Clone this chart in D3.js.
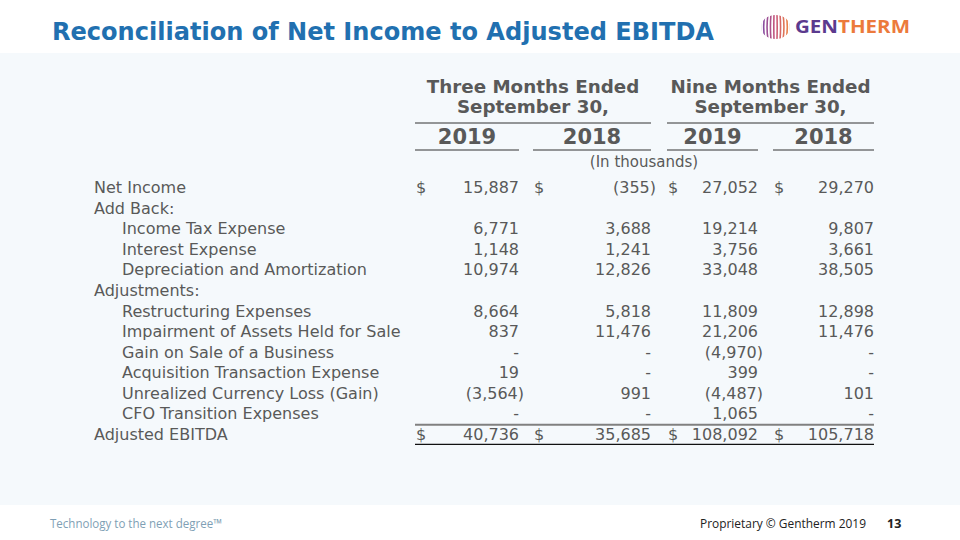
<!DOCTYPE html>
<html><head><meta charset="utf-8">
<script src="https://cdn.jsdelivr.net/npm/d3@7/dist/d3.min.js"></script>
<style>body{margin:0;background:#fff}svg{display:block}</style>
</head><body>
<svg id="c" width="960" height="540"></svg>
<script>
const title = "Reconciliation of Net Income to Adjusted EBITDA";
const groupHeaders = [["Three Months Ended", "September 30,"], ["Nine Months Ended", "September 30,"]];
const yearLabels = ["2019", "2018", "2019", "2018"];
const unitsLabel = "(In thousands)";
const rowLabels = ["Net Income", "Add Back:", "Income Tax Expense", "Interest Expense",
  "Depreciation and Amortization", "Adjustments:", "Restructuring Expenses",
  "Impairment of Assets Held for Sale", "Gain on Sale of a Business",
  "Acquisition Transaction Expense", "Unrealized Currency Loss (Gain)",
  "CFO Transition Expenses", "Adjusted EBITDA"];
const rowIndent = [0, 0, 1, 1, 1, 0, 1, 1, 1, 1, 1, 1, 0];
const dollarRows = ["Net Income", "Adjusted EBITDA"];
// null = blank cell, 0 = "-"
const q3_2019 = [15887, null, 6771, 1148, 10974, null, 8664, 837, 0, 19, -3564, 0, 40736];
const q3_2018 = [-355, null, 3688, 1241, 12826, null, 5818, 11476, 0, 0, 991, 0, 35685];
const ytd_2019 = [27052, null, 19214, 3756, 33048, null, 11809, 21206, -4970, 399, -4487, 1065, 108092];
const ytd_2018 = [29270, null, 9807, 3661, 38505, null, 12898, 11476, 0, 0, 101, 0, 105718];
const series = [q3_2019, q3_2018, ytd_2019, ytd_2018];
const footerLeft = "Technology to the next degree\u2122";
const footerRight = "Proprietary \u00a9 Gentherm 2019";
const pageNumber = "13";

const svg = d3.select("#c");
const textCol = "#595959";
const font = "'DejaVu Sans', sans-serif";

// background panel
svg.append("rect").attr("x", 0).attr("y", 0).attr("width", 960).attr("height", 540).attr("fill", "#fff");
svg.append("rect").attr("x", 0).attr("y", 53).attr("width", 960).attr("height", 452).attr("fill", "#f5f9fc");

// title
svg.append("text").attr("x", 52).attr("y", 40).text(title)
  .attr("font-family", "'DejaVu Sans Condensed', 'DejaVu Sans', sans-serif").attr("font-weight", "bold").attr("font-size", 24)
  .attr("fill", "#2170b0").attr("textLength", 662).attr("lengthAdjust", "spacingAndGlyphs");

// logo
const defs = svg.append("defs");
const grad = defs.append("linearGradient").attr("id", "lg").attr("gradientUnits", "userSpaceOnUse")
  .attr("x1", 761).attr("x2", 790).attr("y1", 0).attr("y2", 0);
grad.append("stop").attr("offset", 0).attr("stop-color", "#7a4aa8");
grad.append("stop").attr("offset", 0.5).attr("stop-color", "#c8567a");
grad.append("stop").attr("offset", 1).attr("stop-color", "#f08a40");
defs.append("clipPath").attr("id", "lc").append("ellipse").attr("cx", 775.5).attr("cy", 27).attr("rx", 14.5).attr("ry", 12);
const logo = svg.append("g");
const stripeX = d3.scaleLinear().domain([0, 9]).range([762, 789]);
logo.append("g").attr("clip-path", "url(#lc)").selectAll("path").data(d3.range(10)).join("path")
  .attr("d", d => { const x = stripeX(d), bow = (x - 775.5) * 0.25; return `M${x},14 Q${x + bow},27 ${x},40`; })
  .attr("fill", "none").attr("stroke", "url(#lg)").attr("stroke-width", 1.6);
const logoText = logo.append("text").attr("x", 795).attr("y", 33).attr("font-family", "'Open Sans', sans-serif")
  .attr("font-weight", "bold").attr("font-size", 17).attr("textLength", 115).attr("lengthAdjust", "spacingAndGlyphs");
logoText.append("tspan").attr("fill", "#5b3a8e").text("GEN");
logoText.append("tspan").attr("fill", "#ec7a3c").text("THERM");

// layout scales
const y = d3.scaleBand().domain(rowLabels).range([176.7, 444.3]);
const colLeft = d3.scaleOrdinal().domain([0, 1, 2, 3]).range([415, 533, 667, 773]);
const colRight = d3.scaleOrdinal().domain([0, 1, 2, 3]).range([519, 651, 758, 874]);
const fmt = d3.format(",");
const cell = v => v === null ? "" : v === 0 ? "-" : v < 0 ? "(" + fmt(-v) + ")" : fmt(v);

// group headers
groupHeaders.forEach((g, i) => {
  const x0 = colLeft(i * 2), x1 = colRight(i * 2 + 1);
  const cx = (x0 + x1) / 2;
  g.forEach((line, j) => {
    svg.append("text").attr("x", cx).attr("y", 93 + j * 20).attr("text-anchor", "middle")
      .attr("font-family", font).attr("font-weight", "bold").attr("font-size", 18.3).attr("fill", textCol).text(line);
  });
  svg.append("line").attr("x1", x0).attr("x2", x1).attr("y1", 123).attr("y2", 123).attr("stroke", "#333").attr("stroke-width", 1);
});
// years
yearLabels.forEach((yr, i) => {
  const x0 = colLeft(i), x1 = colRight(i);
  svg.append("text").attr("x", (x0 + x1) / 2).attr("y", 144).attr("text-anchor", "middle")
    .attr("font-family", font).attr("font-weight", "bold").attr("font-size", 21).attr("fill", textCol).text(yr);
  svg.append("line").attr("x1", x0).attr("x2", x1).attr("y1", 150).attr("y2", 150).attr("stroke", "#333").attr("stroke-width", 1);
});
svg.append("text").attr("x", 644).attr("y", 167).attr("text-anchor", "middle")
  .attr("font-family", font).attr("font-size", 15).attr("fill", textCol).text(unitsLabel);

// rows
const rows = svg.append("g").selectAll("g").data(rowLabels).join("g")
  .attr("transform", d => `translate(0,${y(d) + y.bandwidth() / 2 + 6})`);
rows.append("text").attr("x", (d, i) => rowIndent[i] ? 122 : 94).text(d => d)
  .attr("font-family", font).attr("font-size", 16).attr("fill", textCol);
series.forEach((s, c) => {
  rows.append("text").attr("x", colRight(c)).attr("text-anchor", "end")
    .attr("dx", (d, i) => s[i] < 0 ? 5 : 0)
    .attr("font-family", font).attr("font-size", 16).attr("fill", textCol)
    .text((d, i) => cell(s[i]));
  rows.filter(d => dollarRows.includes(d)).append("text").attr("x", colLeft(c) + 1)
    .attr("font-family", font).attr("font-size", 16).attr("fill", textCol).text("$");
});

// total lines
const last = rowLabels[rowLabels.length - 1];
svg.append("line").attr("x1", colLeft(0)).attr("x2", colRight(3)).attr("y1", y(last) + 1).attr("y2", y(last) + 1)
  .attr("stroke", "#808080").attr("stroke-width", 2);
svg.append("line").attr("x1", colLeft(0)).attr("x2", colRight(3)).attr("y1", y(last) + y.bandwidth()).attr("y2", y(last) + y.bandwidth())
  .attr("stroke", "#111").attr("stroke-width", 1.2);

// footer
svg.append("text").attr("x", 50).attr("y", 528).text(footerLeft)
  .attr("font-family", "'Open Sans', sans-serif").attr("font-size", 13).attr("fill", "#7f9fb5")
  .attr("textLength", 172).attr("lengthAdjust", "spacingAndGlyphs");
svg.append("text").attr("x", 700).attr("y", 528).text(footerRight)
  .attr("font-family", "'Open Sans', sans-serif").attr("font-size", 12).attr("fill", "#222")
  .attr("textLength", 166).attr("lengthAdjust", "spacingAndGlyphs");
svg.append("text").attr("x", 887).attr("y", 528).text(pageNumber)
  .attr("font-family", "'Open Sans', sans-serif").attr("font-weight", "bold").attr("font-size", 12.5).attr("fill", "#222");
</script>
</body></html>
